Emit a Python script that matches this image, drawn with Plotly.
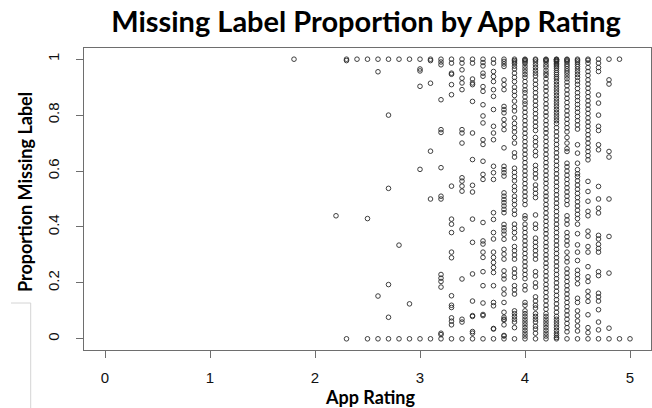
import plotly.graph_objects as go

# ---- data: proportion of missing labels, grouped by app rating ----
ratings = [1.8, 2.2, 2.3, 2.4, 2.5, 2.6, 2.7, 2.8, 2.9, 3.0, 3.1, 3.2, 3.3, 3.4,
           3.5, 3.6, 3.7, 3.8, 3.9, 4.0, 4.1, 4.2, 4.3, 4.4, 4.5, 4.6, 4.7,
           4.8, 4.9, 5.0]

p18 = [1.0]
p22 = [0.44]
p23 = [1.0, 0.995, 0.0]
p24 = [1.0]
p25 = [1.0, 0.43, 0.0]
p26 = [1.0, 0.955, 0.153, 0.0]
p27 = [1.0, 0.80, 0.538, 0.194, 0.077, 0.0]
p28 = [1.0, 0.335, 0.0]
p29 = [1.0, 0.125, 0.0]
p30 = [1.0, 0.965, 0.958, 0.903, 0.606, 0.0]
p31 = [1.0, 0.995, 0.914, 0.671, 0.50, 0.0]
p32 = [1.0, 0.99, 0.98, 0.855, 0.748, 0.738, 0.612, 0.51, 0.50, 0.23, 0.217,
       0.205, 0.185, 0.02, 0.015, 0.0]
p33 = [1.0, 0.986, 0.95, 0.946, 0.909, 0.873, 0.546, 0.428, 0.41, 0.38, 0.31,
       0.29, 0.154, 0.12, 0.112, 0.075, 0.063, 0.05, 0.0]
p34 = [1.0, 0.986, 0.962, 0.932, 0.915, 0.891, 0.748, 0.736, 0.70, 0.576,
       0.564, 0.546, 0.528, 0.392, 0.214, 0.07, 0.06, 0.0]
p35 = [1.0, 0.986, 0.929, 0.915, 0.909, 0.849, 0.736, 0.641, 0.549, 0.525,
       0.428, 0.345, 0.232, 0.135, 0.083, 0.08, 0.026, 0.02, 0.0]
p36 = [1.0, 0.988, 0.976, 0.95, 0.939, 0.902, 0.885, 0.837, 0.797, 0.772,
       0.712, 0.695, 0.635, 0.588, 0.57, 0.416, 0.35, 0.339, 0.31, 0.291,
       0.24, 0.19, 0.128, 0.087, 0.083, 0.0]
p37 = [1.0, 0.986, 0.956, 0.938, 0.92, 0.891, 0.867, 0.82, 0.76, 0.736, 0.712,
       0.617, 0.594, 0.57, 0.451, 0.427, 0.38, 0.357, 0.31, 0.291, 0.273,
       0.255, 0.237, 0.19, 0.13, 0.118, 0.037, 0.035, 0.0]
p38 = [1.0, 0.992, 0.983, 0.974, 0.926, 0.909, 0.891, 0.831, 0.82, 0.808,
       0.784, 0.766, 0.748, 0.683, 0.617, 0.605, 0.594, 0.582, 0.522, 0.51,
       0.498, 0.487, 0.475, 0.463, 0.451, 0.409, 0.397, 0.386, 0.374, 0.356,
       0.32, 0.303, 0.285, 0.243, 0.226, 0.214, 0.178, 0.16, 0.13, 0.095,
       0.077, 0.07, 0.067, 0.05, 0.012, 0.01, 0.0]
p39 = [1.0, 0.995, 0.99, 0.985, 0.975, 0.965, 0.95, 0.935, 0.92, 0.90, 0.885,
       0.87, 0.85, 0.83, 0.815, 0.79, 0.77, 0.755, 0.74, 0.72, 0.70, 0.665,
       0.65, 0.61, 0.595, 0.58, 0.565, 0.545, 0.53, 0.51, 0.495, 0.48, 0.46,
       0.445, 0.41, 0.395, 0.38, 0.36, 0.33, 0.315, 0.30, 0.285, 0.25, 0.235,
       0.22, 0.19, 0.175, 0.16, 0.10, 0.09, 0.08, 0.07, 0.06, 0.04, 0.0]
p40 = [1.0, 0.998, 0.995, 0.99, 0.985, 0.975, 0.965, 0.955, 0.945, 0.935,
       0.92, 0.905, 0.89, 0.88, 0.865, 0.85, 0.84, 0.825, 0.81, 0.795, 0.78,
       0.765, 0.75, 0.735, 0.72, 0.705, 0.69, 0.675, 0.66, 0.645, 0.63, 0.615,
       0.60, 0.585, 0.57, 0.555, 0.54, 0.525, 0.51, 0.495, 0.48, 0.44, 0.43,
       0.41, 0.395, 0.38, 0.365, 0.35, 0.335, 0.32, 0.305, 0.29, 0.275, 0.26,
       0.245, 0.23, 0.215, 0.19, 0.175, 0.13, 0.12, 0.10, 0.09, 0.08, 0.07,
       0.06, 0.05, 0.04, 0.03, 0.02, 0.01, 0.0]
p41 = [1.0, 0.997, 0.99, 0.98, 0.97, 0.96, 0.95, 0.94, 0.925, 0.91, 0.895,
       0.88, 0.865, 0.85, 0.835, 0.82, 0.805, 0.79, 0.775, 0.76, 0.745, 0.72,
       0.705, 0.69, 0.67, 0.655, 0.62, 0.605, 0.59, 0.575, 0.55, 0.535, 0.52,
       0.505, 0.443, 0.41, 0.395, 0.36, 0.345, 0.33, 0.315, 0.30, 0.285, 0.24,
       0.225, 0.20, 0.185, 0.15, 0.135, 0.12, 0.11, 0.09, 0.08, 0.07, 0.06,
       0.045, 0.035, 0.02, 0.0]
p42 = [1.0, 0.998, 0.995, 0.99, 0.98, 0.972, 0.96, 0.95, 0.942, 0.93, 0.915,
       0.90, 0.887, 0.87, 0.856, 0.84, 0.826, 0.81, 0.797, 0.78, 0.766, 0.75,
       0.737, 0.72, 0.706, 0.69, 0.676, 0.66, 0.645, 0.63, 0.616, 0.60, 0.585,
       0.57, 0.556, 0.54, 0.523, 0.51, 0.496, 0.48, 0.466, 0.45, 0.434, 0.42,
       0.405, 0.39, 0.376, 0.36, 0.344, 0.33, 0.316, 0.30, 0.286, 0.27, 0.256,
       0.24, 0.225, 0.21, 0.194, 0.18, 0.166, 0.15, 0.136, 0.12, 0.106, 0.09,
       0.08, 0.07, 0.06, 0.05, 0.04, 0.03, 0.02, 0.01, 0.0]
p43 = [1.0, 0.999, 0.997, 0.995, 0.992, 0.99, 0.985, 0.98, 0.975, 0.968, 0.96,
       0.952, 0.945, 0.937, 0.93, 0.92, 0.91, 0.9, 0.89, 0.88, 0.87, 0.86,
       0.85, 0.84, 0.83, 0.82, 0.81, 0.8, 0.79, 0.78, 0.77, 0.755, 0.74, 0.725,
       0.71, 0.695, 0.68, 0.665, 0.65, 0.635, 0.62, 0.605, 0.59, 0.575, 0.56,
       0.545, 0.53, 0.515, 0.5, 0.485, 0.47, 0.455, 0.44, 0.425, 0.41, 0.395,
       0.38, 0.365, 0.35, 0.335, 0.32, 0.305, 0.29, 0.275, 0.26, 0.245, 0.23,
       0.215, 0.2, 0.185, 0.17, 0.155, 0.14, 0.125, 0.11, 0.095, 0.08, 0.07,
       0.06, 0.05, 0.04, 0.03, 0.02, 0.012, 0.005, 0.0]
p44 = [1.0, 0.998, 0.994, 0.99, 0.982, 0.975, 0.966, 0.958, 0.95, 0.94, 0.93,
       0.918, 0.905, 0.89, 0.875, 0.86, 0.845, 0.83, 0.815, 0.80, 0.785, 0.77,
       0.755, 0.74, 0.72, 0.70, 0.68, 0.67, 0.628, 0.615, 0.60, 0.585, 0.57,
       0.555, 0.54, 0.525, 0.51, 0.495, 0.48, 0.44, 0.425, 0.41, 0.38, 0.365,
       0.35, 0.335, 0.31, 0.29, 0.275, 0.25, 0.235, 0.22, 0.205, 0.19, 0.175,
       0.16, 0.145, 0.13, 0.115, 0.10, 0.085, 0.07, 0.055, 0.04, 0.025, 0.0]
p45 = [1.0, 0.996, 0.99, 0.982, 0.974, 0.965, 0.955, 0.945, 0.935, 0.922,
       0.91, 0.895, 0.88, 0.866, 0.852, 0.838, 0.824, 0.81, 0.795, 0.78,
       0.765, 0.75, 0.694, 0.664, 0.628, 0.605, 0.59, 0.58, 0.565, 0.55, 0.535,
       0.52, 0.505, 0.49, 0.475, 0.46, 0.445, 0.43, 0.41, 0.376, 0.336, 0.31,
       0.28, 0.245, 0.23, 0.215, 0.197, 0.145, 0.13, 0.10, 0.082, 0.064, 0.046,
       0.028, 0.0]
p46 = [1.0, 0.996, 0.986, 0.97, 0.956, 0.942, 0.926, 0.911, 0.896, 0.881,
       0.866, 0.851, 0.836, 0.821, 0.806, 0.79, 0.775, 0.76, 0.745, 0.73,
       0.715, 0.70, 0.684, 0.67, 0.655, 0.64, 0.563, 0.527, 0.492, 0.456,
       0.44, 0.385, 0.367, 0.33, 0.31, 0.258, 0.222, 0.205, 0.17, 0.152,
       0.134, 0.086, 0.04, 0.022, 0.0]
p47 = [1.0, 0.986, 0.97, 0.956, 0.872, 0.843, 0.80, 0.76, 0.745, 0.694,
       0.676, 0.545, 0.50, 0.467, 0.45, 0.37, 0.357, 0.338, 0.323, 0.31,
       0.24, 0.226, 0.163, 0.15, 0.135, 0.104, 0.06, 0.032, 0.0]
p48 = [1.0, 0.926, 0.911, 0.67, 0.65, 0.50, 0.366, 0.235, 0.038, 0.0]
p49 = [1.0, 0.0]
p50 = [0.0]

columns = [p18, p22, p23, p24, p25, p26, p27, p28, p29, p30, p31, p32, p33,
           p34, p35, p36, p37, p38, p39, p40, p41, p42, p43, p44, p45, p46,
           p47, p48, p49, p50]

xs, ys = [], []
for r, col in zip(ratings, columns):
    xs.extend([r] * len(col))
    ys.extend(col)

x_ticks = [0, 1, 2, 3, 4, 5]
y_ticks = [0, 0.2, 0.4, 0.6, 0.8, 1]
y_tick_text = ["0", "0.2", "0.4", "0.6", "0.8", "1"]

fig = go.Figure(go.Scatter(
    x=xs, y=ys, mode="markers",
    marker=dict(symbol="circle-open", size=4.6, color="#2a2a2a",
                line=dict(width=0.9, color="#2a2a2a")),
    hoverinfo="skip", showlegend=False,
))

axis_col = "#6e6e6e"
tick_font = dict(family="Liberation Sans, Arial, sans-serif", size=15, color="#111")
bold_font = "Lato, Open Sans, sans-serif"

fig.update_layout(
    width=652, height=408,
    margin=dict(l=84, r=1, t=48, b=58),
    paper_bgcolor="white", plot_bgcolor="white",
    title=dict(text="<b>Missing Label Proportion by App Rating</b>",
               font=dict(family=bold_font, size=29, color="#000"),
               x=366 / 652, xanchor="center", xref="container",
               y=1 - 22 / 408, yanchor="middle", yref="container"),
    xaxis=dict(range=[-0.2, 5.2], tickvals=x_ticks, ticks="outside", ticklen=7,
               tickcolor=axis_col, tickwidth=1, showline=True, linecolor=axis_col,
               linewidth=1, mirror=True, showgrid=False, zeroline=False,
               tickfont=tick_font, ticklabelstandoff=7),
    yaxis=dict(range=[-0.04, 1.04], tickvals=y_ticks, ticktext=y_tick_text,
               ticks="outside", ticklen=7, tickangle=-90,
               tickcolor=axis_col, tickwidth=1, showline=True, linecolor=axis_col,
               linewidth=1, mirror=True, showgrid=False, zeroline=False,
               tickfont=tick_font, ticklabelstandoff=11),
    annotations=[
        dict(text="<b>App Rating</b>", xref="paper", yref="paper",
             x=(370 - 84) / 567, y=(350 - 397) / 302, xanchor="center",
             yanchor="middle", showarrow=False,
             font=dict(family=bold_font, size=18, color="#000")),
        dict(text="<b>Proportion Missing Label</b>", xref="paper", yref="paper",
             x=(25 - 84) / 567, y=(350 - 192) / 302, xanchor="center",
             yanchor="middle", textangle=-90, showarrow=False,
             font=dict(family=bold_font, size=18, color="#000")),
    ],
    shapes=[
        dict(type="line", xref="paper", yref="paper",
             x0=(11 - 84) / 567, x1=(30.7 - 84) / 567,
             y0=(350 - 303) / 302, y1=(350 - 303) / 302,
             line=dict(color="#d4d4d4", width=1)),
        dict(type="line", xref="paper", yref="paper",
             x0=(30.7 - 84) / 567, x1=(30.7 - 84) / 567,
             y0=(350 - 303) / 302, y1=(350 - 410) / 302,
             line=dict(color="#d4d4d4", width=1)),
    ],
)

fig.write_html("out.html",
               config={"displayModeBar": False, "staticPlot": True},
               post_script="document.body.style.margin='0px';"
                           "document.body.style.overflow='hidden';")
